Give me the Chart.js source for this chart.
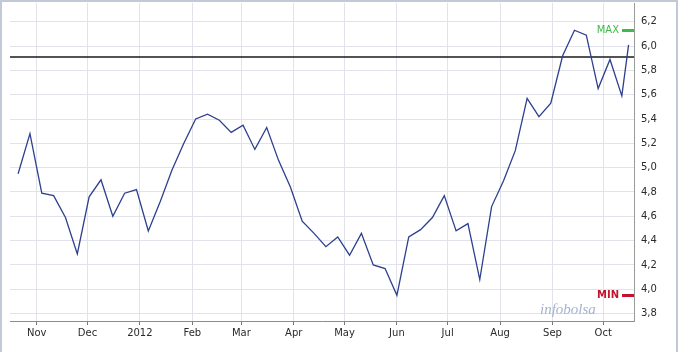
<!DOCTYPE html>
<html>
<head>
<meta charset="utf-8">
<script src="https://cdn.jsdelivr.net/npm/chart.js@4/dist/chart.umd.min.js"></script>
<style>
    html, body { margin: 0; padding: 0; background: #fff; }
    #wrap { width: 678px; height: 352px; position: relative; }
</style>
</head>
<body>
<div id="wrap"><canvas id="lineChart"></canvas></div>
<script>
// weekly closes
const dates = [
    '2011-10-21', '2011-10-28', '2011-11-04', '2011-11-11', '2011-11-18', '2011-11-25',
    '2011-12-02', '2011-12-09', '2011-12-16', '2011-12-23', '2011-12-30',
    '2012-01-06', '2012-01-13', '2012-01-20', '2012-01-27',
    '2012-02-03', '2012-02-10', '2012-02-17', '2012-02-24',
    '2012-03-02', '2012-03-09', '2012-03-16', '2012-03-23', '2012-03-30',
    '2012-04-06', '2012-04-13', '2012-04-20', '2012-04-27',
    '2012-05-04', '2012-05-11', '2012-05-18', '2012-05-25',
    '2012-06-01', '2012-06-08', '2012-06-15', '2012-06-22', '2012-06-29',
    '2012-07-06', '2012-07-13', '2012-07-20', '2012-07-27',
    '2012-08-03', '2012-08-10', '2012-08-17', '2012-08-24', '2012-08-31',
    '2012-09-07', '2012-09-14', '2012-09-21', '2012-09-28',
    '2012-10-05', '2012-10-12', '2012-10-16'
];
const prices = [
    4.95, 5.28, 4.79, 4.77, 4.59, 4.29,
    4.76, 4.90, 4.60, 4.79, 4.82,
    4.48, 4.72, 4.98, 5.20,
    5.40, 5.44, 5.39, 5.29,
    5.35, 5.15, 5.33, 5.06, 4.84,
    4.56, 4.46, 4.35, 4.43,
    4.28, 4.46, 4.20, 4.17,
    3.95, 4.43, 4.49, 4.59, 4.77,
    4.48, 4.54, 4.08, 4.68,
    4.89, 5.14, 5.57, 5.42, 5.53,
    5.92, 6.13, 6.09, 5.65,
    5.89, 5.59, 6.01
];
const refLevel = 5.91;

const tickDates = ['2011-11-01', '2011-12-01', '2012-01-01', '2012-02-01', '2012-03-01', '2012-04-01',
    '2012-05-01', '2012-06-01', '2012-07-01', '2012-08-01', '2012-09-01', '2012-10-01'];
const tickLabels = ['Nov', 'Dec', '2012', 'Feb', 'Mar', 'Apr', 'May', 'Jun', 'Jul', 'Aug', 'Sep', 'Oct'];
const yTicks = [3.8, 4.0, 4.2, 4.4, 4.6, 4.8, 5.0, 5.2, 5.4, 5.6, 5.8, 6.0, 6.2];

const xRange = ['2011-10-16', '2012-10-19'];
const yRange = [3.739, 6.354];

// days since 1 Nov 2011
const origin = Date.UTC(2011, 10, 1);
const toDay = (s) => {
    const p = s.split('-').map(Number);
    return (Date.UTC(p[0], p[1] - 1, p[2]) - origin) / 86400000;
};

const xMin = toDay(xRange[0]) + 0.2;
const xMax = toDay(xRange[1]) + 0.2;

const maxVal = Math.max(...prices);
const minVal = Math.min(...prices);

const markers = {
    id: 'markers',
    afterDatasetsDraw(chart) {
        const { ctx, chartArea, scales } = chart;
        const r = chartArea.right;
        const draw = (val, text, color, weight) => {
            const y = Math.round(scales.y.getPixelForValue(val)) + 0.5;
            ctx.save();
            ctx.strokeStyle = color;
            ctx.lineWidth = 3;
            ctx.beginPath();
            ctx.moveTo(r - 12, y);
            ctx.lineTo(r, y);
            ctx.stroke();
            ctx.fillStyle = color;
            ctx.font = weight + ' 10px "DejaVu Sans"';
            ctx.textAlign = 'right';
            ctx.textBaseline = 'middle';
            ctx.fillText(text, r - 15, y);
            ctx.restore();
        };
        draw(maxVal, 'MAX', '#3dbb4c', 'normal');
        draw(minVal, 'MIN', '#c3122e', 'bold');

        // watermark
        ctx.save();
        ctx.fillStyle = '#a6b2d0';
        ctx.font = 'italic 15px "Liberation Serif"';
        ctx.textAlign = 'left';
        ctx.textBaseline = 'alphabetic';
        ctx.fillText('infobolsa', 540, 314);
        ctx.restore();
    },
    afterDraw(chart) {
        const { ctx, width, height } = chart;
        ctx.save();
        ctx.strokeStyle = '#c3c8d6';
        ctx.lineWidth = 2;
        ctx.beginPath();
        ctx.moveTo(1, height);
        ctx.lineTo(1, 1);
        ctx.lineTo(width - 1, 1);
        ctx.lineTo(width - 1, height);
        ctx.stroke();
        ctx.restore();
    }
};

const data = {
    datasets: [{
        data: dates.map((d, i) => ({ x: toDay(d), y: prices[i] })),
        borderColor: '#2d3f8e',
        borderWidth: 1.3,
        pointRadius: 0,
        tension: 0
    }, {
        data: [{ x: xMin, y: refLevel }, { x: xMax, y: refLevel }],
        borderColor: '#1a1a1a',
        borderWidth: 1.3,
        pointRadius: 0
    }]
};

const tickFont = { family: '"DejaVu Sans"', size: 10 };

const options = {
    animation: false,
    responsive: true,
    maintainAspectRatio: false,
    layout: { padding: { left: 10, top: 3, right: 0, bottom: 0 } },
    plugins: {
        legend: { display: false },
        tooltip: { enabled: false }
    },
    scales: {
        x: {
            type: 'linear',
            min: xMin,
            max: xMax,
            afterBuildTicks: (scale) => {
                scale.ticks = tickDates.map(d => ({ value: toDay(d) }));
            },
            afterFit: (scale) => {
                scale.height = 31;
                scale.paddingLeft = 0;
                scale.paddingRight = 0;
            },
            grid: {
                color: '#e2e3ea',
                tickColor: '#777',
                tickLength: 4
            },
            border: { color: '#8c8c8c', width: 1 },
            ticks: {
                autoSkip: false,
                maxRotation: 0,
                padding: 2,
                color: '#2a2a2a',
                font: tickFont,
                callback: (value, index) => tickLabels[index]
            }
        },
        y: {
            position: 'right',
            min: yRange[0],
            max: yRange[1],
            afterBuildTicks: (scale) => {
                scale.ticks = yTicks.map(v => ({ value: v }));
            },
            afterFit: (scale) => {
                scale.width = 44;
                scale.paddingTop = 0;
                scale.paddingBottom = 0;
            },
            grid: {
                color: '#e2e3ea',
                drawTicks: false
            },
            border: { color: '#9a9a9a', width: 1 },
            ticks: {
                padding: 7,
                color: '#2a2a2a',
                font: tickFont,
                callback: (value) => value.toFixed(1).replace('.', ',')
            }
        }
    }
};

new Chart(document.getElementById('lineChart'), {
    type: 'line',
    data,
    options,
    plugins: [markers]
});
</script>
</body>
</html>
